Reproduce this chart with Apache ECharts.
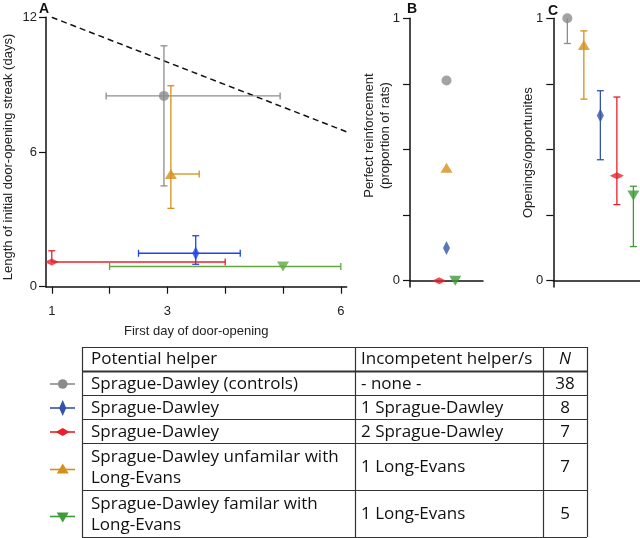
<!DOCTYPE html>
<html><head><meta charset="utf-8">
<script src="https://cdn.jsdelivr.net/npm/echarts@6/dist/echarts.min.js"></script>
<style>html,body{margin:0;padding:0;background:#fff}#c{width:640px;height:538px}</style>
</head><body><div id="c"></div>
<script>
// ---- groups (order as in table) ----
const helperText = ['Sprague-Dawley (controls)', 'Sprague-Dawley', 'Sprague-Dawley',
  'Sprague-Dawley unfamilar with\nLong-Evans', 'Sprague-Dawley familar with\nLong-Evans'];
const incompetentText = ['- none -', '1 Sprague-Dawley', '2 Sprague-Dawley', '1 Long-Evans', '1 Long-Evans'];
const nText = ['38', '8', '7', '7', '5'];
const headerText = ['Potential helper', 'Incompetent helper/s', 'N'];

const colorsA = ['#8c8c8c', '#1f45e6', '#e8202a', '#d4901a', '#62a83c'];
const colorsBC = ['#8c8c8c', '#3554a6', '#e8202a', '#d4901a', '#3f9a3a'];
const symbols = ['circle', 'diamond', 'diamond', 'triangle', 'triangle'];
const symbolRot = [0, 0, 0, 0, 180];
const symbolSizes = [[10, 10], [7, 14], [14, 7], [12, 10], [12, 10]];

// ---- Panel A ----
const aX = [2.94, 3.49, 1.0, 3.06, 5.0];
const aY = [8.5, 1.49, 1.1, 5.02, 0.9];
const aXLow = [1.94, 2.5, 1.0, 3.06, 2.0];
const aXHigh = [4.95, 4.26, 4.0, 3.55, 6.0];
const aYLow = [4.49, 1.0, 1.1, 3.49, 0.9];
const aYHigh = [10.73, 2.27, 1.6, 8.95, 0.9];
const boundX = [1, 6.1];
const boundY = [12, 6.9];
const aXTicks = [1, 2, 3, 4, 5, 6];
const aXLabels = [1, 3, 6];
const aYTicks = [0, 6, 12];

// ---- Panel B ----
const bX = [0.5, 0.5, 0.4, 0.5, 0.62];
const bY = [0.763, 0.125, 0, 0.43, 0];

// ---- Panel C ----
const cX = [1, 3, 4, 2, 5];
const cY = [1.0, 0.63, 0.40, 0.898, 0.325];
const cLow = [0.904, 0.461, 0.29, 0.692, 0.13];
const cHigh = [1.0, 0.724, 0.70, 0.952, 0.36];

const propTicks = [0, 0.25, 0.5, 0.75, 1];
const propLabels = [0, 1];

const FONT = "'Liberation Sans', Arial, sans-serif";
const TFONT = "'Open Sans', 'Noto Sans', sans-serif";

function errRender(colors) {
  return function (params, api) {
    const i = params.dataIndex;
    const x = api.value(0), y = api.value(1), xl = api.value(2), xh = api.value(3), yl = api.value(4), yh = api.value(5);
    const st = { stroke: colors[i], lineWidth: 1.3 };
    const cap = 3.5;
    const ch = [];
    if (xh > xl) {
      const p1 = api.coord([xl, y]), p2 = api.coord([xh, y]);
      ch.push({ type: 'line', shape: { x1: p1[0], y1: p1[1], x2: p2[0], y2: p2[1] }, style: st });
      if (xl < x) ch.push({ type: 'line', shape: { x1: p1[0], y1: p1[1] - cap, x2: p1[0], y2: p1[1] + cap }, style: st });
      if (xh > x) ch.push({ type: 'line', shape: { x1: p2[0], y1: p2[1] - cap, x2: p2[0], y2: p2[1] + cap }, style: st });
    }
    if (yh > yl) {
      const p1 = api.coord([x, yl]), p2 = api.coord([x, yh]);
      ch.push({ type: 'line', shape: { x1: p1[0], y1: p1[1], x2: p2[0], y2: p2[1] }, style: st });
      if (yl < y) ch.push({ type: 'line', shape: { x1: p1[0] - cap, y1: p1[1], x2: p1[0] + cap, y2: p1[1] }, style: st });
      if (yh > y) ch.push({ type: 'line', shape: { x1: p2[0] - cap, y1: p2[1], x2: p2[0] + cap, y2: p2[1] }, style: st });
    }
    return { type: 'group', children: ch };
  };
}

function markers(xs, ys, colors) {
  return xs.map((x, i) => ({
    value: [x, ys[i]], symbol: symbols[i], symbolSize: symbolSizes[i], symbolRotate: symbolRot[i],
    itemStyle: { color: colors[i] }
  }));
}

const axisLineStyle = { color: '#111', width: 1.5 };
const labelStyle = { color: '#222', fontFamily: FONT, fontSize: 13 };
const nameStyle = { color: '#222', fontFamily: FONT, fontSize: 13 };

// ---- table graphic ----
const colEdges = [82, 355, 543, 587];
const rowEdges = [347, 371, 395, 419, 443, 490, 537];
const graphic = [];
const lineCol = '#333';
rowEdges.forEach((y, k) => {
  graphic.push({ type: 'line', shape: { x1: colEdges[0], y1: y + 0.5, x2: colEdges[3], y2: y + 0.5 },
    style: { stroke: lineCol, lineWidth: k === 1 ? 2 : 1.2 } });
});
colEdges.forEach(x => {
  graphic.push({ type: 'line', shape: { x1: x + 0.5, y1: rowEdges[0], x2: x + 0.5, y2: rowEdges[6] },
    style: { stroke: lineCol, lineWidth: 1.2 } });
});
function cellText(t, x, y, align, italic) {
  return { type: 'text', x: x, y: y, style: { text: t, fill: '#111', fontFamily: TFONT, fontSize: 17,
    fontStyle: italic ? 'italic' : 'normal', align: align, verticalAlign: 'middle', lineHeight: 21.5 } };
}
const hy = (rowEdges[0] + rowEdges[1]) / 2;
graphic.push(cellText(headerText[0], 91, hy, 'left'));
graphic.push(cellText(headerText[1], 361, hy, 'left'));
graphic.push(cellText(headerText[2], 565, hy, 'center', true));
for (let i = 0; i < 5; i++) {
  const cy = (rowEdges[i + 1] + rowEdges[i + 2]) / 2 + 1;
  graphic.push(cellText(helperText[i], 91, cy, 'left'));
  graphic.push(cellText(incompetentText[i], 361, cy, 'left'));
  graphic.push(cellText(nText[i], 565, cy, 'center'));
  // legend symbol
  const mx = 62.7, my = cy + (i >= 3 ? 2 : 0), c = colorsBC[i];
  graphic.push({ type: 'line', shape: { x1: 50, y1: my, x2: 75, y2: my }, style: { stroke: c, lineWidth: 1.6 } });
  let shp;
  if (i === 0) shp = { type: 'circle', shape: { cx: mx, cy: my, r: 4.8 }, style: { fill: c } };
  else if (i === 1) shp = { type: 'polygon', shape: { points: [[mx, my - 8], [mx + 3.6, my], [mx, my + 8], [mx - 3.6, my]] }, style: { fill: c } };
  else if (i === 2) shp = { type: 'polygon', shape: { points: [[mx - 7, my], [mx, my - 4], [mx + 7, my], [mx, my + 4]] }, style: { fill: c } };
  else if (i === 3) shp = { type: 'polygon', shape: { points: [[mx, my - 6], [mx + 6, my + 4], [mx - 6, my + 4]] }, style: { fill: c } };
  else shp = { type: 'polygon', shape: { points: [[mx - 6, my - 4], [mx + 6, my - 4], [mx, my + 6]] }, style: { fill: c } };
  graphic.push(shp);
}

const chart = echarts.init(document.getElementById('c'), null, { renderer: 'canvas' });
const option = {
  animation: false,
  backgroundColor: '#fff',
  title: [
    { text: 'A', left: 34, top: -3, textStyle: { fontFamily: FONT, fontSize: 14, fontWeight: 'bold', color: '#111' } },
    { text: 'B', left: 402, top: -3, textStyle: { fontFamily: FONT, fontSize: 14, fontWeight: 'bold', color: '#111' } },
    { text: 'C', left: 543, top: -1, textStyle: { fontFamily: FONT, fontSize: 14, fontWeight: 'bold', color: '#111' } }
  ],
  grid: [
    { left: 46, top: 17.3, width: 300.6, height: 269.4, outerBoundsMode: 'none', containLabel: false },
    { left: 410, top: 18.3, width: 73, height: 268.7, outerBoundsMode: 'none', containLabel: false },
    { left: 553.3, top: 18.3, width: 86.7, height: 268.7, outerBoundsMode: 'none', containLabel: false }
  ],
  xAxis: [
    { gridIndex: 0, type: 'value', min: 0.9, max: 6.1,
      axisLine: { show: true, lineStyle: axisLineStyle },
      axisTick: { show: true, length: 7, lineStyle: { color: '#111', width: 1.2 }, customValues: aXTicks },
      axisLabel: Object.assign({ margin: 18, customValues: aXLabels }, labelStyle),
      splitLine: { show: false },
      name: 'First day of door-opening', nameLocation: 'middle', nameGap: 38, nameTextStyle: nameStyle, nameMoveOverlap: false },
    { gridIndex: 1, type: 'value', min: 0, max: 1, axisLine: { show: true, lineStyle: axisLineStyle },
      axisTick: { show: false }, axisLabel: { show: false }, splitLine: { show: false } },
    { gridIndex: 2, type: 'value', min: 0.15, max: 5.4, axisLine: { show: true, lineStyle: axisLineStyle },
      axisTick: { show: false }, axisLabel: { show: false }, splitLine: { show: false } }
  ],
  yAxis: [
    { gridIndex: 0, type: 'value', min: 0, max: 12,
      axisLine: { show: true, onZero: false, lineStyle: axisLineStyle },
      axisTick: { show: true, length: 7, lineStyle: { color: '#111', width: 1.2 }, customValues: aYTicks },
      axisLabel: Object.assign({ margin: 9, customValues: aYTicks }, labelStyle),
      splitLine: { show: false },
      name: 'Length of initial door-opening streak (days)', nameLocation: 'middle', nameRotate: 90, nameGap: 31,
      nameTextStyle: Object.assign({ padding: [0, 10, 0, 0] }, nameStyle), nameMoveOverlap: false },
    { gridIndex: 1, type: 'value', min: -0.024, max: 1,
      axisLine: { show: true, onZero: false, lineStyle: axisLineStyle },
      axisTick: { show: true, length: 7, lineStyle: { color: '#111', width: 1.2 }, customValues: propTicks },
      axisLabel: Object.assign({ margin: 10, customValues: propLabels }, labelStyle),
      splitLine: { show: false },
      name: 'Perfect reinforcement\n(proportion of rats)', nameLocation: 'middle', nameRotate: 90, nameGap: 17,
      nameTextStyle: Object.assign({ padding: [0, 0, 0, 34], lineHeight: 16 }, nameStyle), nameMoveOverlap: false },
    { gridIndex: 2, type: 'value', min: -0.024, max: 1,
      axisLine: { show: true, onZero: false, lineStyle: axisLineStyle },
      axisTick: { show: true, length: 7, lineStyle: { color: '#111', width: 1.2 }, customValues: propTicks },
      axisLabel: Object.assign({ margin: 10, customValues: propLabels }, labelStyle),
      splitLine: { show: false },
      name: 'Openings/opportunites', nameLocation: 'middle', nameRotate: 90, nameGap: 17,
      nameTextStyle: Object.assign({ lineHeight: 16 }, nameStyle), nameMoveOverlap: false }
  ],
  series: [
    { type: 'line', xAxisIndex: 0, yAxisIndex: 0, data: boundX.map((x, i) => [x, boundY[i]]),
      symbol: 'none', lineStyle: { color: '#111', width: 1.5, type: [6, 4] }, silent: true, z: 1 },
    { type: 'custom', xAxisIndex: 0, yAxisIndex: 0, renderItem: errRender(colorsA),
      data: aX.map((x, i) => [x, aY[i], aXLow[i], aXHigh[i], aYLow[i], aYHigh[i]]),
      encode: { x: [0, 2, 3], y: [1, 4, 5] }, z: 2 },
    { type: 'scatter', xAxisIndex: 0, yAxisIndex: 0, data: markers(aX, aY, colorsA), z: 3 },
    { type: 'scatter', xAxisIndex: 1, yAxisIndex: 1, data: markers(bX, bY, colorsBC), z: 3, clip: false },
    { type: 'custom', xAxisIndex: 2, yAxisIndex: 2, renderItem: errRender(colorsBC),
      data: cX.map((x, i) => [x, cY[i], x, x, cLow[i], cHigh[i]]),
      encode: { x: [0, 2, 3], y: [1, 4, 5] }, z: 2 },
    { type: 'scatter', xAxisIndex: 2, yAxisIndex: 2, data: markers(cX, cY, colorsBC), z: 3, clip: false }
  ],
  graphic: graphic
};
chart.setOption(option);
</script></body></html>
